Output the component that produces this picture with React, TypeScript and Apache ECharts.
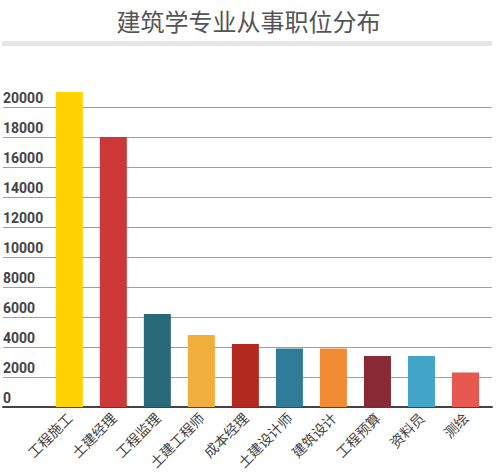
import { useEffect, useRef } from 'react';
import * as echarts from 'echarts';

const categories = ['工程施工', '土建经理', '工程监理', '土建工程师', '成本经理', '土建设计师', '建筑设计', '工程预算', '资料员', '测绘'];
const counts = [21000, 18000, 6200, 4800, 4200, 3900, 3900, 3400, 3400, 2300];
const barColors = ['#FFD200', '#CC3838', '#296978', '#F0AE3C', '#B1291F', '#2E7C98', '#F18B34', '#882A33', '#42A4C6', '#E7594E'];
const yTicks = { min: 0, max: 20000, interval: 2000 };

export default function App() {
  const chartRef = useRef<HTMLDivElement>(null);

  useEffect(() => {
    document.body.style.margin = '0';
    if (!chartRef.current) return;
    const chart = echarts.init(chartRef.current, null, { renderer: 'svg' });

    const option = {
      animation: false,
      title: {
        text: '建筑学专业从事职位分布',
        left: 'center',
        top: 3,
        textStyle: {
          fontFamily: 'Noto Sans CJK SC',
          fontSize: 24,
          fontWeight: 'normal',
          color: '#555'
        }
      },
      graphic: [
        {
          type: 'rect',
          shape: { x: 2, y: 41, width: 490, height: 5 },
          style: { fill: '#e6e6e6' }
        }
      ],
      grid: [
        // 只画网格线和刻度文字，铺满整个宽度
        { left: 2, right: 5, top: 107, height: 300 },
        // 柱子
        { left: 47.3, right: 9.5, top: 107, height: 300 }
      ],
      xAxis: [
        {
          gridIndex: 0,
          type: 'value',
          min: 0,
          max: 1,
          axisLine: { show: true, onZero: false, lineStyle: { color: '#444', width: 2 } },
          axisTick: { show: false },
          axisLabel: { show: false },
          splitLine: { show: false }
        },
        {
          gridIndex: 1,
          type: 'category',
          data: categories,
          axisLine: { show: false },
          axisTick: { show: false },
          axisLabel: {
            interval: 0,
            rotate: 45,
            margin: 8,
            fontSize: 14,
            color: '#444',
            fontFamily: 'Noto Sans CJK SC'
          }
        }
      ],
      yAxis: [
        {
          gridIndex: 0,
          type: 'value',
          min: yTicks.min,
          max: yTicks.max,
          interval: yTicks.interval,
          axisLine: { show: false },
          axisTick: { show: false },
          axisLabel: {
            inside: true,
            margin: 0,
            verticalAlign: 'bottom',
            padding: [0, 0, 2, 0],
            fontSize: 14,
            fontWeight: 'bold',
            fontFamily: 'Roboto',
            color: '#444',
            formatter: (v: number) => String(v)
          },
          splitLine: { lineStyle: { color: '#a0a0a0', width: 1 } }
        },
        {
          gridIndex: 1,
          type: 'value',
          min: yTicks.min,
          max: yTicks.max,
          show: false,
          splitLine: { show: false }
        }
      ],
      series: [
        {
          type: 'bar',
          xAxisIndex: 1,
          yAxisIndex: 1,
          barWidth: 27,
          clip: false,
          data: counts.map((v, i) => ({ value: v, itemStyle: { color: barColors[i] } }))
        }
      ]
    };

    chart.setOption(option);
    return () => {
      chart.dispose();
    };
  }, []);

  return <div ref={chartRef} style={{ width: 497, height: 474 }}></div>;
}
